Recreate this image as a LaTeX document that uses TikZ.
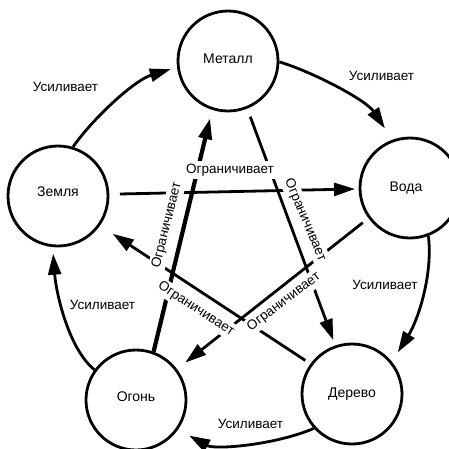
\documentclass[tikz,border=0pt]{standalone}
\usepackage{fontspec}
\setmainfont{Liberation Sans}
\usetikzlibrary{arrows.meta}
\begin{document}
\begin{tikzpicture}[x=1pt,y=-1pt,
  elem/.style={circle,draw,line width=2.8pt,minimum size=100pt,inner sep=0pt,font=\fontsize{14}{16}\selectfont},
  conn/.style={line width=2.8pt,-{Triangle[length=21pt,width=13pt]}},
  thickconn/.style={conn,line width=4.2pt},
  lbl/.style={font=\fontsize{13.5}{15}\selectfont,inner sep=1pt},
  lim/.style={lbl,fill=white,inner xsep=1.5pt,inner ysep=2.5pt}
]
\useasboundingbox (0,0) rectangle (449,448);
% elements
\node[elem] (M) at (228,61) {\raisebox{4pt}{Металл}};
\node[elem] (V) at (410,188) {\hspace*{-8pt}Вода};
\node[elem] (Z) at (58,196) {\raisebox{8pt}{Земля}};
\node[elem] (O) at (136,400) {\raisebox{7pt}{Огонь}};
\node[elem] (D) at (352,394) {Дерево};
% generating cycle
\draw[conn,shorten >=6.5pt] (Z.73) .. controls (94,117) and (135,80) .. (M.187);
\draw[conn,shorten >=13.6pt] (M.-1) .. controls (313,72) and (366,100) .. (V.110.7);
\draw[conn,shorten >=11pt] (V.-69.4) .. controls (433,275) and (418,320) .. (D.39.8);
\draw[conn,shorten >=12.6pt] (D.222.7) .. controls (275,445) and (215,450) .. (O.-35.4);
\draw[conn,shorten >=6.6pt] (O.144) .. controls (68,348) and (56,292) .. (Z.264);
% controlling star
\draw[conn,shorten <=10.6pt,shorten >=3.6pt] (Z.2.8) -- (V.181);
\draw[thickconn,shorten >=8.6pt] (O.70.5) -- (M.252.5);
\draw[conn,shorten <=8.6pt,shorten >=5.6pt] (M.-68.6) -- (D.109.4);
\draw[conn,shorten <=7.2pt,shorten >=10.6pt] (V.216.7) -- (O.37.8);
\draw[conn,shorten <=6pt,shorten >=15.2pt] (D.144.9) -- (Z.-35.8);
% labels
\node[lim] (l1) at (230,170) {Ограничивает};
\node[lim,rotate=76] (l2) at (167,225) {Ограничивает};
\node[lim,rotate=-67] (l3) at (305,220) {Ограничивает};
\node[lim,rotate=37] (l4) at (284,302) {Ограничивает};
\node[lim,rotate=-33] (l5) at (196,309) {Ограничивает};
\node[lbl] (u1) at (65.5,87) {Усиливает};
\node[lbl] (u2) at (381.5,76) {Усиливает};
\node[lbl] (u3) at (385,285) {Усиливает};
\node[lbl] (u4) at (250.5,424) {Усиливает};
\node[lbl] (u5) at (102.5,305) {Усиливает};
\end{tikzpicture}
\end{document}
